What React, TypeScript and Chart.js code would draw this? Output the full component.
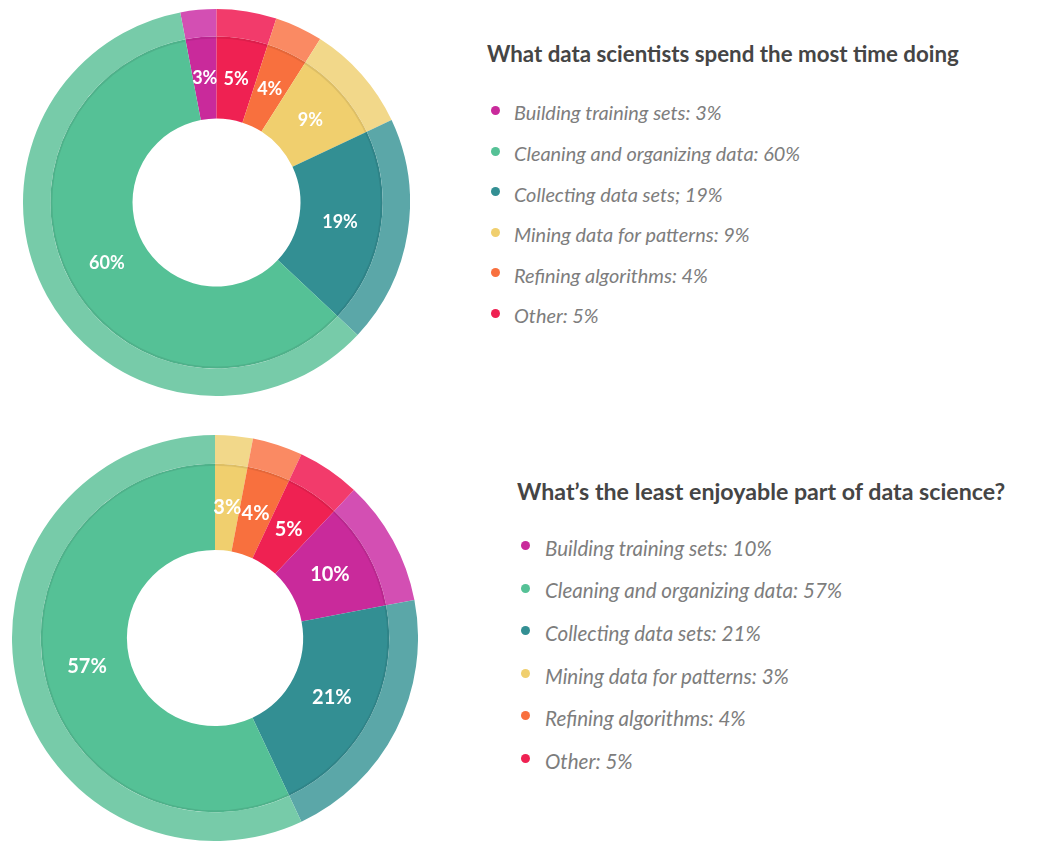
import React, { useEffect, useRef } from "react";
import { Chart, registerables } from "chart.js";

Chart.register(...registerables);

// ---- data ----
const categories = [
  "Building training sets",
  "Cleaning and organizing data",
  "Collecting data sets",
  "Mining data for patterns",
  "Refining algorithms",
  "Other",
];
const innerColors = ["#C92A9B", "#55C196", "#338F93", "#F0CF6E", "#F8703E", "#EF2152"];
const outerColors = ["#D34FB3", "#77CBA9", "#5BA7A8", "#F2D88A", "#FA8A63", "#F23B6B"];

const timeTitle = "What data scientists spend the most time doing";
const timeValues = [3, 60, 19, 9, 4, 5];
const timeSeparators = [": ", ": ", "; ", ": ", ": ", ": "];
const timeSliceOrder = [0, 5, 4, 3, 2, 1];

const enjoyTitle = "What\u2019s the least enjoyable part of data science?";
const enjoyValues = [10, 57, 21, 3, 4, 5];
const enjoySeparators = [": ", ": ", ": ", ": ", ": ", ": "];
const enjoySliceOrder = [3, 4, 5, 0, 2, 1];

const ringLabels = {
  id: "ringLabels",
  afterDatasetsDraw(chart: any, _args: any, opts: any) {
    const meta = chart.getDatasetMeta(1);
    const ctx = chart.ctx as CanvasRenderingContext2D;
    const first = meta.data[0] as any;
    ctx.save();
    ctx.beginPath();
    ctx.arc(first.x, first.y, first.outerRadius - 1, 0, Math.PI * 2);
    ctx.strokeStyle = "rgba(0,0,0,0.08)";
    ctx.lineWidth = 2;
    ctx.stroke();
    ctx.fillStyle = "#ffffff";
    ctx.font = `bold ${opts.size}px Lato`;
    ctx.textAlign = "center";
    ctx.textBaseline = "middle";
    meta.data.forEach((arc: any, i: number) => {
      const p = arc.getCenterPoint();
      ctx.fillText(`${chart.data.datasets[1].data[i]}%`, p.x, p.y);
    });
    ctx.restore();
  },
};

type DonutProps = {
  values: number[];
  order: number[];
  rotation: number;
  size: number;
  left: number;
  top: number;
  labelSize: number;
};

function Donut({ values, order, rotation, size, left, top, labelSize }: DonutProps) {
  const ref = useRef<HTMLCanvasElement>(null);
  useEffect(() => {
    const data = order.map((i) => values[i]);
    const chart = new Chart(ref.current as HTMLCanvasElement, {
      type: "doughnut",
      data: {
        labels: order.map((i) => categories[i]),
        datasets: [
          { data, backgroundColor: order.map((i) => outerColors[i]), borderWidth: 0, weight: 1 } as any,
          { data, backgroundColor: order.map((i) => innerColors[i]), borderWidth: 0, weight: 3 } as any,
        ],
      },
      options: {
        animation: false,
        responsive: false,
        maintainAspectRatio: false,
        cutout: "43.4%",
        rotation,
        layout: { padding: 0 },
        events: [],
        plugins: {
          legend: { display: false },
          tooltip: { enabled: false },
          ringLabels: { size: labelSize },
        } as any,
      },
      plugins: [ringLabels as any],
    });
    return () => chart.destroy();
  }, []);
  return (
    <canvas
      ref={ref}
      width={size}
      height={size}
      style={{ position: "absolute", left, top, width: size, height: size }}
    />
  );
}

type LegendProps = {
  title: string;
  values: number[];
  separators: string[];
  left: number;
  titleBaseline: number;
  titleSize: number;
  textLeft: number;
  dotX: number;
  firstBaseline: number;
  rowGap: number;
  textSize: number;
};

function Legend(p: LegendProps) {
  return (
    <>
      <div
        style={{
          position: "absolute",
          left: p.left,
          top: p.titleBaseline - 0.887 * p.titleSize,
          fontSize: p.titleSize,
          lineHeight: `${p.titleSize}px`,
          fontWeight: 700,
          color: "#454545",
          whiteSpace: "nowrap",
        }}
      >
        {p.title}
      </div>
      {categories.map((c, i) => {
        const baseline = p.firstBaseline + i * p.rowGap;
        return (
          <React.Fragment key={c}>
            <div
              style={{
                position: "absolute",
                left: p.dotX - 4.5,
                top: baseline - 10.5 - 4.5,
                width: 9,
                height: 9,
                borderRadius: "50%",
                background: innerColors[i],
              }}
            />
            <div
              style={{
                position: "absolute",
                left: p.textLeft,
                top: baseline - 0.887 * p.textSize,
                fontSize: p.textSize,
                lineHeight: `${p.textSize}px`,
                fontStyle: "italic",
                color: "#7d7d7d",
                whiteSpace: "nowrap",
              }}
            >
              {`${c}${p.separators[i]}${p.values[i]}%`}
            </div>
          </React.Fragment>
        );
      })}
    </>
  );
}

export default function App() {
  return (
    <div
      style={{
        position: "fixed",
        left: 0,
        top: 0,
        width: 1038,
        height: 841,
        background: "#ffffff",
        overflow: "hidden",
        fontFamily: "Lato, 'Open Sans', sans-serif",
      }}
    >
      <Donut
        values={timeValues}
        order={timeSliceOrder}
        rotation={-timeValues[0] * 3.6}
        size={387}
        left={23}
        top={9}
        labelSize={18}
      />
      <Donut
        values={enjoyValues}
        order={enjoySliceOrder}
        rotation={0}
        size={406}
        left={12}
        top={435}
        labelSize={20}
      />
      <Legend
        title={timeTitle}
        values={timeValues}
        separators={timeSeparators}
        left={487}
        titleBaseline={63}
        titleSize={22.3}
        textLeft={514}
        dotX={495}
        firstBaseline={121}
        rowGap={40.6}
        textSize={19.9}
      />
      <Legend
        title={enjoyTitle}
        values={enjoyValues}
        separators={enjoySeparators}
        left={517}
        titleBaseline={501}
        titleSize={23.2}
        textLeft={545}
        dotX={525}
        firstBaseline={556}
        rowGap={42.6}
        textSize={20.6}
      />
    </div>
  );
}
